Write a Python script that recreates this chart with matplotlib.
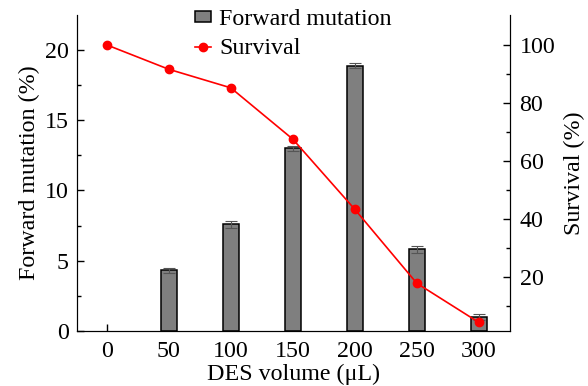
import numpy as np
import matplotlib
matplotlib.use("Agg")
import matplotlib.pyplot as plt

plt.rcParams['font.family'] = ['Liberation Serif', 'DejaVu Serif']

# data
des_volume = [0, 50, 100, 150, 200, 250, 300]
mutation = [0.0, 4.3, 7.6, 13.0, 18.9, 5.8, 1.0]
mutation_err = [0.0, 0.2, 0.25, 0.2, 0.15, 0.25, 0.2]
survival = [100.0, 91.6, 85.2, 67.5, 43.3, 17.8, 4.3]

fs = 17.3

fig, ax = plt.subplots(figsize=(5.88, 3.86), dpi=100)
fig.subplots_adjust(left=0.131, right=0.867, top=0.961, bottom=0.143)

# zero-height bar at 0 is not drawn in the reference
x = np.array(des_volume)
m = np.array(mutation)
e = np.array(mutation_err)
keep = m > 0
bars = ax.bar(x[keep], m[keep], width=13, color='#7f7f7f', edgecolor='black',
              linewidth=1.1, yerr=e[keep], ecolor='#555555',
              error_kw=dict(capsize=4, elinewidth=0.8, capthick=0.8),
              label='Forward mutation', zorder=2)
ax.set_xlim(-24, 325)
ax.set_ylim(0, 22.5)
ax.set_xticks(des_volume)
ax.set_yticks([0, 5, 10, 15, 20])
ax.set_yticks([2.5, 7.5, 12.5, 17.5], minor=True)
ax.set_xlabel('DES volume (μL)', fontsize=fs, labelpad=1.5)
ax.set_ylabel('Forward mutation (%)', fontsize=fs, labelpad=3)
ax.tick_params(axis='both', direction='in', labelsize=fs, length=5, width=1)
ax.tick_params(axis='x', pad=7)
ax.tick_params(axis='y', pad=6)
ax.tick_params(axis='y', which='minor', direction='in', length=3, width=1)
ax.spines['top'].set_visible(False)

ax2 = ax.twinx()
line, = ax2.plot(des_volume, survival, color='#ff0000', marker='o', markersize=6,
                 linewidth=1.2, label='Survival', zorder=3)
ax2.set_ylim(1.4, 110.3)
ax2.set_yticks([20, 40, 60, 80, 100])
ax2.set_yticks([10, 30, 50, 70, 90], minor=True)
ax2.set_ylabel('Survival (%)', fontsize=fs, labelpad=6)
ax2.tick_params(axis='y', direction='in', labelsize=fs, length=5, width=1, pad=7)
ax2.tick_params(axis='y', which='minor', direction='in', length=3, width=1)
ax2.spines['top'].set_visible(False)

ax.legend([bars, line], ['Forward mutation', 'Survival'], loc='upper center',
          bbox_to_anchor=(0.5, 1.065), frameon=False, fontsize=fs,
          handlelength=0.67, handleheight=0.3, handletextpad=0.33,
          labelspacing=0.35, borderpad=0.1)

fig.savefig('out.png', dpi=100)
